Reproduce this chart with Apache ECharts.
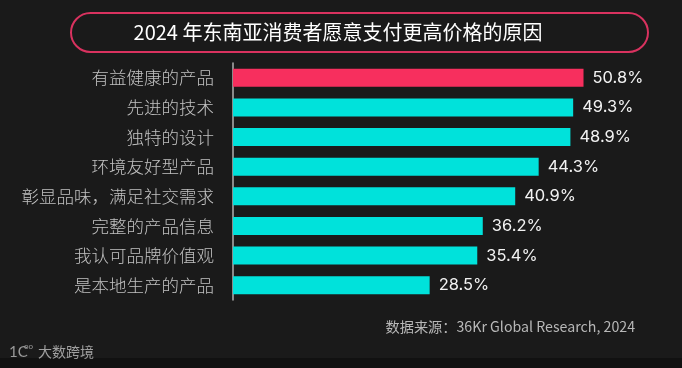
<!DOCTYPE html>
<html>
<head>
<meta charset="utf-8">
<script src="https://cdn.jsdelivr.net/npm/echarts@6/dist/echarts.min.js"></script>
<style>
html,body{margin:0;padding:0;background:#1a1a1a;}
#chart{width:682px;height:368px;}
</style>
</head>
<body>
<div id="chart"></div>
<script>
const titleText = '2024 年东南亚消费者愿意支付更高价格的原因';
const categories = ['有益健康的产品','先进的技术','独特的设计','环境友好型产品','彰显品味，满足社交需求','完整的产品信息','我认可品牌价值观','是本地生产的产品'];
const values = [50.8, 49.3, 48.9, 44.3, 40.9, 36.2, 35.4, 28.5];
const sourceText = '数据来源：36Kr Global Research, 2024';
const logoText = '大数跨境';

const PINK = '#F72F5E';
const CYAN = '#00E2DB';
const chart = echarts.init(document.getElementById('chart'), null, {renderer:'canvas'});
chart.setOption({
  backgroundColor: '#1a1a1a',
  animation: false,
  grid: {left: 233, top: 63, width: 414, height: 237, containLabel: false},
  xAxis: {type: 'value', min: 0, max: 60, show: false},
  yAxis: {
    type: 'category', data: categories, inverse: true,
    axisLine: {show: true, lineStyle: {color: '#b0b0b0', width: 1.5}},
    axisTick: {show: false},
    axisLabel: {color: '#c2c2c2', fontSize: 17.5, fontWeight: 300, margin: 19, fontFamily: 'Noto Sans CJK SC'}
  },
  series: [{
    type: 'bar',
    data: values.map((v, i) => ({value: v, itemStyle: {color: i === 0 ? PINK : CYAN}})),
    barWidth: 18,
    label: {
      show: true, position: 'right', distance: 9,
      color: '#f2f2f2', fontSize: 16.5, fontFamily: 'Inter, Noto Sans CJK SC',
      formatter: p => p.value.toFixed(1) + '%'
    }
  }],
  graphic: [
    {type: 'rect', shape: {x: 71, y: 13, width: 577, height: 39, r: 19.5},
     style: {fill: 'transparent', stroke: '#D9325F', lineWidth: 2}},
    {type: 'text', x: 338, y: 32,
     style: {text: titleText, fill: '#ffffff', font: '20px "Noto Sans CJK SC"', textAlign: 'center', textVerticalAlign: 'middle'}},
    {type: 'text', x: 635, y: 327,
     style: {text: sourceText, fill: '#b8b8b8', font: '14.2px "Noto Sans CJK SC"', textAlign: 'right', textVerticalAlign: 'middle'}},
    {type: 'rect', shape: {x: 0, y: 358, width: 682, height: 10}, style: {fill: '#111111'}},
    {type: 'text', x: 9, y: 352,
     style: {text: '1C', fill: '#9a9a9a', font: '15px Lato', textAlign: 'left', textVerticalAlign: 'middle'}},
    {type: 'text', x: 24, y: 346,
     style: {text: 'oo', fill: '#9a9a9a', font: '8px Lato', textAlign: 'left', textVerticalAlign: 'middle'}},
    {type: 'text', x: 38, y: 352,
     style: {text: logoText, fill: '#a0a0a0', font: '14px "Noto Sans CJK SC"', textAlign: 'left', textVerticalAlign: 'middle'}}
  ]
});
</script>
</body>
</html>
